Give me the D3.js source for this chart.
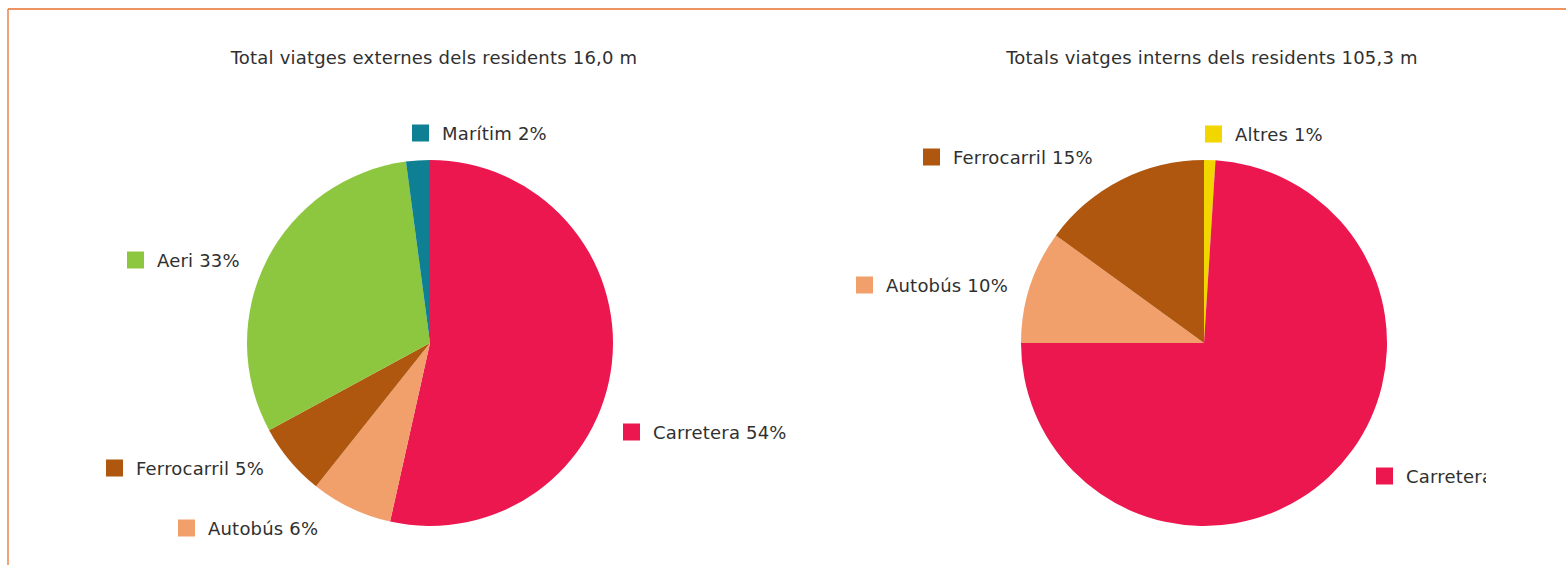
<!DOCTYPE html>
<html>
<head>
  <meta charset="utf-8">
  <script src="https://d3js.org/d3.v7.min.js"></script>
  <style>
    body { margin: 0; background: #fff; }
    text { font-family: "DejaVu Sans", sans-serif; fill: #303030; letter-spacing: 0.2px; }
  </style>
</head>
<body>
<div id="chart"></div>
<script>
  // data (shares, clockwise from 12 o'clock)
  var extCategories = ["Carretera", "Autobús", "Ferrocarril", "Aeri", "Marítim"];
  var extValues     = [53.5, 7.2, 6.4, 30.8, 2.1];
  var extLabels     = ["Carretera 54%", "Autobús 6%", "Ferrocarril 5%", "Aeri 33%", "Marítim 2%"];

  var intCategories = ["Altres", "Carretera", "Autobús", "Ferrocarril"];
  var intValues     = [1, 74, 10, 15];
  var intLabels     = ["Altres 1%", "Carretera", "Autobús 10%", "Ferrocarril 15%"];

  var titles = ["Total viatges externes dels residents 16,0 m",
                "Totals viatges interns dels residents 105,3 m"];

  var colors = {
    "Carretera": "#ec174f",
    "Autobús": "#f1a06b",
    "Ferrocarril": "#b0570f",
    "Aeri": "#8dc63f",
    "Marítim": "#0f7f93",
    "Altres": "#f2d600"
  };

  // where the legend keys sit (left edge of square, vertical centre)
  var extLabelPos = [[623, 432], [178, 528], [106, 468], [127, 260], [412, 133]];
  var intLabelPos = [[1205, 134], [1376, 476], [856, 285], [923, 157]];

  var width = 1566, height = 565, radius = 183;

  var svg = d3.select("#chart").append("svg")
    .attr("width", width)
    .attr("height", height);

  // orange frame (top and left edges)
  svg.append("line").attr("x1", 8).attr("x2", width).attr("y1", 9).attr("y2", 9)
    .style("stroke", "#e9712f").style("stroke-width", 1.3);
  svg.append("line").attr("x1", 8).attr("x2", 8).attr("y1", 9).attr("y2", height)
    .style("stroke", "#e9712f").style("stroke-width", 1.3);

  svg.append("defs").append("clipPath").attr("id", "clip")
    .append("rect").attr("x", 0).attr("y", 0).attr("width", 1486).attr("height", height);

  var pie = d3.pie().sort(null).value(function(d) { return d.value; });
  var arc = d3.arc().innerRadius(0).outerRadius(radius);

  function drawPie(cx, cy, cats, vals, labels, pos, title, titleX) {
    var data = cats.map(function(c, i) { return {cat: c, value: vals[i]}; });
    var g = svg.append("g").attr("transform", "translate(" + cx + "," + cy + ")");
    g.selectAll("path")
      .data(pie(data))
      .enter()
      .append("path")
        .attr("d", arc)
        .style("fill", function(d) { return colors[d.data.cat]; });

    svg.append("text")
      .attr("x", titleX)
      .attr("y", 57)
      .attr("text-anchor", "middle")
      .attr("dominant-baseline", "central")
      .style("font-size", "18px")
      .text(title);

    var leg = svg.append("g").attr("clip-path", "url(#clip)");
    cats.forEach(function(c, i) {
      leg.append("rect")
        .attr("x", pos[i][0])
        .attr("y", pos[i][1] - 8.5)
        .attr("width", 17)
        .attr("height", 17)
        .style("fill", colors[c]);
      leg.append("text")
        .attr("x", pos[i][0] + 30)
        .attr("y", pos[i][1])
        .attr("dominant-baseline", "central")
        .style("font-size", "18px")
        .text(labels[i]);
    });
  }

  drawPie(430, 343, extCategories, extValues, extLabels, extLabelPos, titles[0], 434);
  drawPie(1204, 343, intCategories, intValues, intLabels, intLabelPos, titles[1], 1212);
</script>
</body>
</html>
